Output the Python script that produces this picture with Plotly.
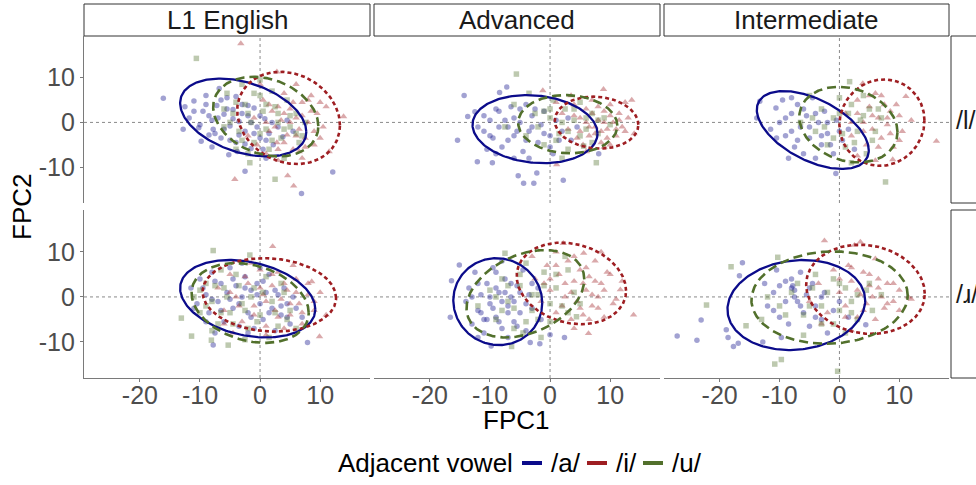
import numpy as np
import plotly.graph_objects as go

W, H = 976, 485
FONT = "Liberation Sans, Arial, Helvetica, sans-serif"

# ---------------- facet levels / legend ----------------
levels = ["L1 English", "Advanced", "Intermediate"]
consonants = ["/l/", "/ɹ/"]
vowels = ["/a/", "/i/", "/u/"]
vowel_colors = ["#0b0b8a", "#9e1e22", "#52702c"]
vowel_symbols = ["circle", "triangle-up", "square"]
vowel_dash = ["solid", "4px,3px", "9px,5px"]
x_ticks = [-20, -10, 0, 10]
x_ticklabels = ["-20", "-10", "0", "10"]
y_ticks = [-10, 0, 10]
y_ticklabels = ["-10", "0", "10"]
x_range = [-29.3, 18.3]
y_range = [-18.0, 19.3]

# ---------------- points (FPC1, FPC2) ----------------
# Row /l/
pts_L1_l_a = [(-16.1,5.4),(-12.5,3.5),(-11.8,1.0),(-11.0,4.8),(-10.2,-1.2),(-9.5,2.5),(-9.0,6.0),(-8.5,-2.8),
              (-8.0,0.5),(-7.8,-1.5),(-7.2,3.8),(-6.5,-3.5),(-6.0,1.8),(-5.5,5.5),(-5.0,-0.8),(-4.5,2.9),
              (-4.0,-4.5),(-3.5,0.2),(-3.0,4.0),(-2.5,-2.0),(-2.0,1.5),(-1.5,-5.8),(-1.0,3.2),(-0.5,-1.0),
              (0.0,-3.5),(0.8,0.8),(1.5,-2.5),(2.2,-5.0),(3.0,-1.0),(3.8,-3.2),(4.5,0.5),(5.5,-2.0),
              (-2.5,-10.9),(6.9,-15.9),(12.1,-11.1),(-5.2,-7.2),(-12.8,-1.5),(-9.8,-4.2),(1.0,-8.0),(-6.8,7.6),
              (-11.0,2.5),(-10.0,-0.5),(-9.0,4.0),(-8.5,1.5),(-7.5,-2.5),(-7.0,1.0),(-6.5,5.0),(-6.0,-1.5),
              (-5.5,3.0),(-5.0,-4.0),(-4.5,0.8),(-4.0,5.8),(-3.5,-2.8),(-3.0,2.0),(-2.5,-4.8),(-2.0,3.8),
              (-1.5,0.0),(-1.0,-2.5),(0.0,1.5),(1.0,-4.0),(2.0,0.0),(0.5,-6.0),(-8.0,-5.5),(-3.8,-6.5)]
pts_L1_l_i = [(-3.2,17.6),(2.8,11.3),(13.9,1.3),(4.6,-11.9),(-4.2,-12.7),(5.6,-14.2),(0.5,5.0),(1.5,-2.0),
              (2.0,2.5),(2.8,-4.5),(3.5,0.5),(4.0,6.5),(4.5,-2.8),(5.0,3.0),(5.5,-6.0),(6.0,1.0),(6.5,-1.5),
              (7.0,4.5),(7.5,-3.5),(8.0,0.0),(8.5,6.0),(9.0,-5.0),(9.5,2.0),(10.5,-1.0),(11.0,3.5),(-1.0,1.0),
              (-0.5,-5.0),(0.0,8.5),(3.0,-8.5),(7.0,-8.0),(11.5,-6.5),(-2.0,-3.0),(1.0,-7.0),(6.0,8.5),
              (1.0,0.0),(2.5,-1.0),(3.0,3.5),(4.0,-4.5),(5.0,0.0),(5.5,4.5),(6.0,-3.0),(7.0,1.5),(7.5,-5.5),
              (8.5,2.5),(9.0,-2.0),(10.0,4.5),(4.0,2.0),(6.5,-6.5),(3.0,-6.0),(8.0,5.0),(10.0,-3.5),(1.5,4.0)]
pts_L1_l_u = [(-10.6,14.3),(2.5,-12.7),(-1.7,-9.0),(-5.5,6.5),(-4.5,2.0),(-3.5,-2.0),(-3.0,8.5),(-2.5,4.0),
              (-1.5,0.0),(-1.0,-4.5),(0.0,6.0),(0.5,2.5),(1.0,-1.5),(1.5,-6.0),(2.5,3.5),(3.0,0.0),(3.5,-3.5),
              (4.5,5.0),(5.0,-1.0),(6.0,2.0),(6.5,-4.5),(-6.0,-1.0),(0.0,9.5),(-2.0,-7.0),(4.0,-8.0),(7.5,0.0),
              (-5.0,0.0),(-4.0,4.5),(-3.0,-4.0),(-2.0,2.0),(-1.0,6.5),(0.0,-2.5),(1.0,4.0),(2.0,-4.0),(3.0,2.0),
              (4.0,-1.5),(5.0,1.5),(6.0,-2.5),(-4.0,-6.0),(2.0,7.0),(-6.0,3.0),(7.0,-3.0)]

pts_Adv_l_a = [(-14.3,6.0),(-13.7,1.3),(-15.4,-4.0),(-12.1,-8.8),(-9.6,-9.0),(-7.2,7.9),(-8.4,6.7),(-5.3,-11.9),
               (-4.4,-13.6),(-2.7,-13.6),(-2.2,-11.3),(2.2,-12.9),(8.1,-7.0),(-12.5,2.4),(-11.0,-2.0),(-10.0,0.5),
               (-9.5,-3.5),(-8.5,2.5),(-8.0,-5.5),(-7.0,-1.0),(-6.5,3.5),(-6.0,-3.0),(-5.0,0.0),(-4.5,-6.5),
               (-4.0,4.0),(-3.5,-2.0),(-3.0,1.5),(-2.0,-4.5),(-1.5,-0.5),(-1.0,2.5),(0.0,-3.0),(0.5,-7.0),
               (1.0,0.5),(2.0,-2.0),(3.0,1.0),(3.5,-4.0),(4.5,-1.0),(-10.5,-6.0),(-6.0,-8.0),
               (-12.0,-1.0),(-11.0,1.5),(-10.0,-3.0),(-9.0,3.0),(-8.5,-1.0),(-7.5,0.5),(-7.0,-4.0),(-6.0,1.0),
               (-5.5,-2.0),(-5.0,3.0),(-4.0,-4.0),(-3.0,-1.0),(-2.5,3.0),(-1.0,-2.5),(0.0,-5.5),(1.5,-4.0),
               (-9.0,-7.0),(-3.5,-8.0)]
pts_Adv_l_i = [(8.9,7.4),(13.6,5.0),(-1.2,7.1),(1.1,-9.4),(2.0,2.0),(3.0,-1.5),(4.0,4.0),(4.5,-3.5),(5.0,1.0),
               (5.5,-5.0),(6.0,3.0),(6.5,-1.0),(7.0,5.0),(7.5,-2.5),(8.0,0.5),(8.5,-4.5),(9.0,2.5),(9.5,-1.5),
               (10.0,4.0),(10.5,0.0),(11.0,-3.0),(11.5,2.0),(12.0,-1.0),(13.0,1.0),(14.0,-2.5),(6.0,-6.5),
               (3.5,6.0),(1.0,4.5),(12.5,4.5),(9.0,-5.5),
               (5.0,-2.0),(6.0,0.0),(7.0,2.0),(7.5,-1.0),(8.0,3.5),(8.5,-2.0),(9.0,0.0),(9.5,-3.5),(10.0,1.5),
               (11.0,-1.5),(11.5,0.5),(6.5,-3.0),(12.5,-2.0),(4.0,1.5),(10.0,-5.0)]
pts_Adv_l_u = [(-5.6,10.8),(7.7,-9.0),(5.6,-5.3),(-6.0,4.0),(-4.0,-3.0),(-2.5,2.0),(-1.0,-5.0),(0.0,1.0),
               (0.5,5.0),(1.5,-2.5),(2.5,3.0),(3.0,-6.0),(4.0,0.5),(5.0,4.5),(6.0,-1.5),(7.0,2.0),(8.0,-2.5),
               (9.0,1.0),(10.0,-0.5),(-3.5,6.5),(2.0,-8.0),(-7.5,-1.0),
               (-2.0,-1.0),(0.0,3.0),(1.0,-4.0),(2.0,0.0),(3.0,-2.0),(4.0,3.0),(5.0,-3.0),(6.0,1.0),(7.0,-4.5),
               (8.0,0.5),(-1.0,2.5)]

pts_Int_l_a = [(-13.3,4.7),(-13.8,1.0),(-0.6,-11.4),(-10.6,3.2),(-11.5,-1.5),(-10.0,0.0),(-9.5,5.0),(-9.0,-3.0),
               (-8.0,2.0),(-7.5,-5.5),(-7.0,4.0),(-6.5,-1.0),(-6.0,-7.0),(-5.5,1.5),(-5.0,-3.5),(-4.5,5.5),
               (-4.0,-8.0),(-3.5,0.0),(-3.0,-5.0),(-2.5,2.5),(-2.0,-2.5),(-1.0,-7.0),(-0.5,0.5),(0.5,-4.0),
               (1.5,-1.5),(2.5,-6.0),(-8.5,-8.0),
               (-9.0,1.0),(-8.0,-2.0),(-7.0,-4.0),(-6.0,3.0),(-5.0,-1.0),(-4.0,2.0),(-3.0,-3.0),(-2.0,0.0),
               (-1.5,-5.0),(0.0,-2.0),(-10.5,-3.5),(-8.0,5.5)]
pts_Int_l_i = [(16.2,-4.2),(11.1,5.8),(3.9,8.7),(8.9,-8.3),(1.0,2.0),(2.0,-3.0),(3.0,5.0),(4.0,0.0),(4.5,-5.0),
               (5.0,3.5),(5.5,-1.5),(6.0,6.5),(6.5,1.0),(7.0,-3.5),(7.5,4.0),(8.0,-0.5),(8.5,2.5),(9.0,-5.5),
               (10.0,1.5),(10.5,-2.0),(12.0,0.5),(3.0,-7.5),(6.0,-8.5),
               (3.0,2.0),(4.0,-2.0),(5.0,6.0),(5.5,1.5),(6.5,-5.5),(7.0,6.0),(8.0,1.0),(8.5,-2.5),(9.5,4.0),
               (10.0,-4.0),(2.0,0.0)]
pts_Int_l_u = [(7.7,-13.3),(1.7,9.1),(-5.0,6.0),(-4.0,-2.0),(-3.0,3.0),(-2.0,-5.0),(-1.0,1.0),(0.0,5.5),
               (0.5,-2.5),(1.5,2.0),(2.5,-4.5),(3.5,0.5),(4.5,-7.0),(5.0,3.0),(6.0,-2.0),(7.0,1.0),(-6.5,0.0),
               (2.0,-9.0),(4.0,6.0),
               (-4.5,1.0),(-2.5,-1.0),(-1.0,-3.5),(0.0,2.0),(1.0,-5.5),(2.0,4.0),(3.0,-2.0),(4.0,1.5),
               (5.5,-4.0),(6.5,3.0)]

# Row /ɹ/
pts_L1_r_a = [(-7.8,-10.7),(7.9,-10.1),(-11.5,2.0),(-10.5,-1.5),(-10.0,4.0),(-9.0,0.5),(-8.5,-3.5),(-8.0,5.5),
              (-7.0,-1.0),(-6.5,3.0),(-6.0,-5.5),(-5.5,1.0),(-5.0,6.5),(-4.5,-2.5),(-4.0,2.5),(-3.5,-6.5),
              (-3.0,0.0),(-2.5,4.5),(-2.0,-3.5),(-1.5,1.5),(-1.0,-7.0),(-0.5,3.0),(0.0,-1.5),(0.5,-5.0),
              (1.0,1.0),(1.5,5.0),(2.0,-2.5),(2.5,-7.5),(3.0,0.5),(3.5,-4.0),(4.0,2.0),(4.5,-1.5),(5.0,-6.0),
              (6.0,-2.5),(7.0,-4.5),(-7.5,-8.0),(-3.0,7.5),
              (-11.0,-2.5),(-9.5,2.0),(-8.0,-0.5),(-7.5,3.5),(-6.5,-3.0),(-5.0,-0.5),(-4.5,4.0),(-3.5,-1.5),
              (-2.5,2.0),(-1.5,-4.5),(-0.5,0.5),(0.5,3.5),(1.5,-3.5),(2.5,1.5),(3.5,-2.0),(4.5,-4.5),
              (5.5,0.0),(-2.0,-8.0),(0.0,6.5),(-9.0,-5.5)]
pts_L1_r_i = [(2.1,11.2),(9.9,-8.8),(8.6,3.4),(-7.0,2.0),(-6.0,-3.0),(-5.0,5.0),(-4.0,0.0),(-3.0,-5.5),
              (-2.0,3.0),(-1.0,-2.0),(0.0,6.0),(0.5,0.5),(1.0,-6.5),(2.0,2.5),(2.5,-3.0),(3.0,5.5),(3.5,-0.5),
              (4.0,-7.0),(4.5,1.5),(5.0,-4.0),(6.0,4.0),(6.5,-1.5),(7.0,-6.0),(8.0,0.5),(9.0,-3.0),(10.0,1.0),
              (11.0,-4.0),(-1.5,7.5),(5.5,7.0),(-4.5,-8.0),
              (-5.0,1.0),(-3.5,-2.0),(-2.5,4.5),(-1.0,-4.0),(0.0,2.0),(1.0,-1.0),(2.0,5.0),(3.0,-4.5),
              (4.0,3.0),(5.0,-1.5),(6.0,1.0),(7.0,-3.5),(8.0,3.0),(9.0,-1.0),(1.0,-8.5),(-6.0,-6.0)]
pts_L1_r_u = [(-7.8,10.3),(-1.7,9.3),(-13.1,-4.7),(-11.4,-8.7),(-5.3,-10.7),(-8.1,-9.6),(-11.0,0.0),(-10.0,-3.5),
              (-9.0,3.0),(-8.0,-1.0),(-7.0,-6.0),(-6.0,2.0),(-5.0,-3.5),(-4.0,5.0),(-3.0,-1.5),(-2.0,-7.0),
              (-1.0,2.0),(0.0,-4.0),(1.0,4.5),(2.0,-1.0),(3.0,-6.5),(4.0,1.0),(5.0,-3.0),(6.0,-7.0),(-6.5,6.0),
              (1.5,-9.0),(-2.5,-9.5),
              (-10.0,1.5),(-9.0,-2.0),(-7.5,2.5),(-6.5,-3.5),(-5.5,0.0),(-4.5,-6.0),(-3.5,2.5),(-2.5,-3.0),
              (-1.5,0.0),(-0.5,-5.5),(0.5,1.0),(2.5,-3.5),(3.5,3.0),(4.5,-5.0),(-8.0,-7.5)]

pts_Adv_r_a = [(-15.1,7.1),(-16.4,3.6),(-16.6,-4.5),(-9.8,-10.9),(0.0,-8.4),(2.4,-9.0),(-3.3,-10.1),(-1.7,-10.4),
               (-14.0,-1.0),(-13.5,2.0),(-13.0,-6.0),(-12.5,5.5),(-12.0,-3.0),(-11.5,0.5),(-11.0,-8.0),
               (-10.5,3.0),(-10.0,-1.5),(-9.5,6.5),(-9.0,-4.5),(-8.5,1.0),(-8.0,-7.0),(-7.5,4.0),(-7.0,-2.0),
               (-6.5,0.0),(-6.0,-5.5),(-5.5,2.5),(-5.0,-3.5),(-4.5,6.0),(-4.0,-7.5),(-3.5,0.5),(-3.0,-2.5),
               (-2.0,2.0),(-1.5,-5.0),(-10.5,-5.0),(-8.0,8.0),(-12.0,-9.0),
               (-13.0,0.0),(-12.0,3.0),(-11.0,-5.0),(-10.0,0.0),(-9.5,-2.5),(-9.0,2.0),(-8.5,-5.5),(-8.0,-1.0),
               (-7.5,1.0),(-7.0,-3.5),(-6.5,3.0),(-6.0,-1.0),(-5.5,-6.5),(-5.0,1.0),(-4.0,-1.5),(-3.0,3.0),
               (-11.5,-3.5),(-7.0,-9.0),(-9.0,5.5)]
pts_Adv_r_i = [(13.9,-4.0),(6.4,-8.1),(2.2,11.9),(5.6,9.7),(11.7,1.6),(-2.5,4.0),(-1.5,-1.0),(-0.5,7.0),
               (0.0,1.5),(1.0,-3.5),(1.5,5.0),(2.5,0.0),(3.0,8.0),(3.5,-5.0),(4.0,3.5),(4.5,-1.0),(5.0,6.0),
               (5.5,-4.0),(6.0,1.5),(6.5,4.5),(7.0,-2.0),(7.5,8.0),(8.0,0.0),(8.5,3.0),(9.0,-4.5),(10.0,5.0),
               (10.5,-1.5),(12.0,3.5),(1.0,10.0),(-3.0,9.0),(8.5,10.0),
               (0.0,4.0),(1.0,7.0),(2.0,-2.0),(2.5,3.0),(3.5,1.0),(4.0,9.0),(5.0,-2.5),(5.5,3.0),(6.0,6.5),
               (6.5,-5.0),(7.0,0.5),(7.5,3.5),(8.0,-2.5),(9.0,1.5),(9.5,5.5),(11.0,-0.5),(4.0,-7.0),(-1.0,3.0)]
pts_Adv_r_u = [(-6.4,-11.0),(4.4,-4.4),(-7.5,9.7),(-12.0,-2.0),(-10.0,1.5),(-9.0,-5.0),(-8.0,4.0),(-7.0,-1.0),
               (-6.0,-7.0),(-5.0,2.5),(-4.0,7.5),(-3.0,-3.0),(-2.0,0.5),(-1.0,5.5),(0.0,-5.5),(1.0,2.0),
               (2.0,-2.0),(3.0,6.0),(4.0,1.0),(-1.5,-9.0),(-4.5,-8.0),(2.5,9.0),(5.0,-1.5),
               (-9.0,0.0),(-7.0,2.5),(-6.0,-2.5),(-5.0,5.0),(-3.0,0.5),(-2.0,-5.0),(-1.0,2.5),(0.0,-1.5),
               (1.0,5.0),(3.0,-3.5),(-8.0,-3.0),(-4.0,-5.5)]

pts_Int_r_a = [(-27.1,-8.7),(-23.8,-9.6),(-23.1,-5.1),(-18.9,-7.3),(-18.6,-9.0),(-17.7,-11.0),(-16.9,-10.3),
               (-16.7,4.7),(-16.2,7.6),(-9.7,-9.0),(4.4,-6.2),(-12.8,-10.0),(-12.0,-2.0),(-11.0,1.0),(-10.0,-4.5),
               (-9.0,3.5),(-8.0,2.0),(-7.8,2.5),(-7.5,1.5),(-7.0,-1.0),(-6.5,5.5),(-6.0,-3.5),(-5.5,0.5),
               (-5.0,-6.5),(-4.5,3.0),(-4.0,-2.0),(-3.0,-5.0),(-2.5,1.0),(-2.0,-8.0),(-1.0,-3.0),(0.0,-1.0),
               (1.5,-4.5),(-8.5,-6.0),(-10.5,6.0),
               (-11.0,-3.0),(-10.0,2.5),(-9.0,-1.0),(-8.0,4.0),(-7.5,0.0),(-6.5,-2.0),(-5.0,2.0),(-4.0,-4.5),
               (-3.0,0.0),(-12.5,3.0)]
pts_Int_r_i = [(-2.5,12.5),(2.5,11.5),(3.5,12.2),(11.5,0.0),(12.0,-0.5),(-5.0,-1.0),(-3.5,3.0),(-2.0,-3.5),
               (-1.0,6.0),(0.0,1.0),(1.0,-2.0),(1.5,7.0),(2.0,3.5),(3.0,-4.5),(3.5,0.5),(4.0,5.5),(4.5,-1.5),
               (5.0,2.5),(6.0,-5.0),(6.5,4.0),(7.0,0.0),(7.5,-2.5),(8.0,3.0),(9.0,-1.0),(10.0,1.5),(6.0,8.5),
               (2.0,-7.5),(-3.0,-6.0),
               (0.0,4.0),(1.0,-4.5),(2.0,6.5),(3.0,1.5),(4.0,-3.0),(5.0,5.0),(5.5,0.0),(6.5,2.0),(8.0,-1.5),
               (9.0,3.0),(10.0,-3.0)]
pts_Int_r_u = [(-22.2,-1.8),(-18.1,6.7),(-15.6,-6.4),(-10.8,-14.9),(-9.7,-13.9),(-0.3,-16.5),(-10.3,8.8),
               (-12.0,0.0),(-9.0,-4.0),(-7.0,3.0),(-5.0,-2.0),(-4.0,5.0),(-3.0,-6.0),(-2.0,1.0),(-1.0,4.0),
               (0.0,-3.0),(1.0,2.0),(2.0,-1.0),(3.0,-5.0),(4.5,1.5),(5.5,-3.0),(7.0,0.5),(-6.0,-8.5),(1.0,-8.0),
               (-10.0,-2.0),(-8.0,1.0),(-6.0,-4.0),(-4.5,2.0),(-3.0,-2.0),(-1.0,-6.0),(0.0,3.0),(2.0,-3.5),
               (3.0,0.5),(5.0,3.0),(-13.0,-5.0)]

# ---------------- 95% ellipse summaries: (cx, cy, half-width x, half-height y, correlation) ----------------
ell_L1_l = [(-2.8, 1.1, 10.5, 8.7, -0.37), (4.75, 1.0, 8.55, 10.3, -0.16), (0.95, 1.3, 8.75, 8.9, -0.24)]
ell_Adv_l = [(-2.5, -1.5, 10.4, 7.6, -0.13), (7.75, -0.05, 6.95, 5.8, -0.08), (2.95, -0.4, 8.25, 6.5, -0.05)]
ell_Int_l = [(-4.45, -1.7, 9.35, 8.7, -0.52), (7.1, -0.05, 7.1, 9.65, 0.05), (1.5, -0.5, 8.2, 8.45, -0.2)]
ell_L1_r = [(-2.05, -0.4, 11.25, 8.6, -0.27), (1.55, 0.45, 11.1, 8.15, -0.08), (-1.65, -1.35, 9.75, 8.85, -0.25)]
ell_Adv_r = [(-8.7, -1.05, 7.4, 9.65, -0.03), (3.55, 3.0, 9.1, 9.05, -0.18), (-4.1, 0.7, 9.8, 9.7, 0.33)]
ell_Int_r = [(-7.2, -1.8, 11.5, 10.0, 0.1), (4.35, 1.7, 9.9, 9.9, -0.1), (-1.65, -0.15, 13.05, 10.25, 0.05)]

panel_points = [[[pts_L1_l_a, pts_L1_l_i, pts_L1_l_u], [pts_Adv_l_a, pts_Adv_l_i, pts_Adv_l_u],
                 [pts_Int_l_a, pts_Int_l_i, pts_Int_l_u]],
                [[pts_L1_r_a, pts_L1_r_i, pts_L1_r_u], [pts_Adv_r_a, pts_Adv_r_i, pts_Adv_r_u],
                 [pts_Int_r_a, pts_Int_r_i, pts_Int_r_u]]]
panel_ellipses = [[ell_L1_l, ell_Adv_l, ell_Int_l], [ell_L1_r, ell_Adv_r, ell_Int_r]]

# ---------------- layout geometry (pixels) ----------------
col_px = [(84, 370), (374, 660), (664, 949)]
row_px = [(36, 203), (210, 378)]
TICK_COLOR = "#4d4d4d"
AXIS_LINE = "#7a7a7a"


def px_x(p):
    return p / W


def px_y(p):
    return 1 - p / H


fig = go.Figure()
shapes, annotations = [], []
layout_axes = {}


def ellipse_path(cx, cy, hx, hy, rho, n=240):
    t = np.linspace(0, 2 * np.pi, n)
    x = cx + hx * np.cos(t)
    y = cy + hy * (rho * np.cos(t) + np.sqrt(1 - rho ** 2) * np.sin(t))
    return x, y


for r in range(2):
    for c in range(3):
        n = r * 3 + c + 1
        xa = "x" if n == 1 else f"x{n}"
        ya = "y" if n == 1 else f"y{n}"
        xkey = "xaxis" if n == 1 else f"xaxis{n}"
        ykey = "yaxis" if n == 1 else f"yaxis{n}"
        bottom = (r == 1)
        left = (c == 0)
        layout_axes[xkey] = dict(
            domain=[px_x(col_px[c][0]), px_x(col_px[c][1])], anchor=ya, range=x_range,
            tickmode="array", tickvals=x_ticks, ticktext=x_ticklabels,
            showticklabels=bottom, ticks="outside" if bottom else "",
            ticklen=3, tickwidth=1, tickcolor=AXIS_LINE, showline=bottom, linecolor=AXIS_LINE,
            linewidth=1.2, showgrid=False, zeroline=False, ticklabelstandoff=-8,
            tickfont=dict(family=FONT, size=25, color=TICK_COLOR))
        layout_axes[ykey] = dict(
            domain=[px_y(row_px[r][1]), px_y(row_px[r][0])], anchor=xa, range=y_range,
            tickmode="array", tickvals=y_ticks, ticktext=y_ticklabels,
            showticklabels=left, ticks="outside" if left else "",
            ticklen=3, tickwidth=1, tickcolor=AXIS_LINE, showline=left, linecolor=AXIS_LINE,
            linewidth=1.2, showgrid=False, zeroline=False,
            tickfont=dict(family=FONT, size=25, color=TICK_COLOR))
        # dotted zero reference lines
        shapes.append(dict(type="line", xref=xa, yref=f"{ya} domain", x0=0, x1=0, y0=0, y1=1,
                           line=dict(color="#8a8a8a", width=1, dash="dot"), layer="below"))
        shapes.append(dict(type="line", xref=f"{xa} domain", yref=ya, x0=0, x1=1, y0=0, y1=0,
                           line=dict(color="#8a8a8a", width=1, dash="dot"), layer="below"))
        # points
        for k in range(3):
            pts = panel_points[r][c][k]
            fig.add_trace(go.Scatter(
                x=[p[0] for p in pts], y=[p[1] for p in pts], mode="markers", xaxis=xa, yaxis=ya,
                marker=dict(symbol=vowel_symbols[k], size=5.5 if k != 1 else 6.5, color=vowel_colors[k],
                            opacity=0.38, line=dict(width=0)),
                showlegend=False, hoverinfo="skip"))
        # ellipses
        for k in range(3):
            ex, ey = ellipse_path(*panel_ellipses[r][c][k])
            fig.add_trace(go.Scatter(
                x=ex, y=ey, mode="lines", xaxis=xa, yaxis=ya,
                line=dict(color=vowel_colors[k], width=2.3 if k == 0 else 2.6, dash=vowel_dash[k]),
                showlegend=False, hoverinfo="skip"))

# top strips
for c, lab in enumerate(levels):
    x0, x1 = col_px[c]
    shapes.append(dict(type="rect", xref="paper", yref="paper", x0=px_x(x0), x1=px_x(x1),
                       y0=px_y(36), y1=px_y(4), line=dict(color="#333333", width=1), fillcolor="white"))
    annotations.append(dict(text=lab, xref="paper", yref="paper", x=px_x((x0 + x1) / 2), y=px_y(20),
                            showarrow=False, xanchor="center", yanchor="middle",
                            font=dict(family=FONT, size=26, color="#1a1a1a")))
# right strips
for r, lab in enumerate(consonants):
    y0, y1 = row_px[r]
    shapes.append(dict(type="rect", xref="paper", yref="paper", x0=px_x(951), x1=px_x(1000),
                       y0=px_y(y1), y1=px_y(y0), line=dict(color="#333333", width=1), fillcolor="white"))
    annotations.append(dict(text=lab, xref="paper", yref="paper", x=px_x(954), y=px_y((y0 + y1) / 2),
                            showarrow=False, xanchor="left", yanchor="middle",
                            font=dict(family=FONT, size=25, color="#1a1a1a")))

# axis titles
annotations.append(dict(text="FPC1", xref="paper", yref="paper", x=px_x(516), y=px_y(420),
                        showarrow=False, xanchor="center", yanchor="middle",
                        font=dict(family=FONT, size=26, color="#000000")))
annotations.append(dict(text="FPC2", xref="paper", yref="paper", x=px_x(22), y=px_y(207),
                        showarrow=False, xanchor="center", yanchor="middle", textangle=-90,
                        font=dict(family=FONT, size=26, color="#000000")))

# legend (drawn manually, ggplot style)
leg_y = 463
annotations.append(dict(text="Adjacent vowel", xref="paper", yref="paper", x=px_x(515), y=px_y(leg_y),
                        showarrow=False, xanchor="right", yanchor="middle",
                        font=dict(family=FONT, size=26, color="#000000")))
key_x = [522, 587, 643]
for k in range(3):
    shapes.append(dict(type="line", xref="paper", yref="paper", x0=px_x(key_x[k]), x1=px_x(key_x[k] + 20),
                       y0=px_y(leg_y), y1=px_y(leg_y), line=dict(color=vowel_colors[k], width=4)))
    annotations.append(dict(text=vowels[k], xref="paper", yref="paper", x=px_x(key_x[k] + 27),
                            y=px_y(leg_y), showarrow=False, xanchor="left", yanchor="middle",
                            font=dict(family=FONT, size=26, color="#000000")))

fig.update_layout(width=W, height=H, margin=dict(l=0, r=0, t=0, b=0), paper_bgcolor="white",
                  plot_bgcolor="white", showlegend=False, shapes=shapes, annotations=annotations,
                  **layout_axes)
fig.write_html("out.html")
